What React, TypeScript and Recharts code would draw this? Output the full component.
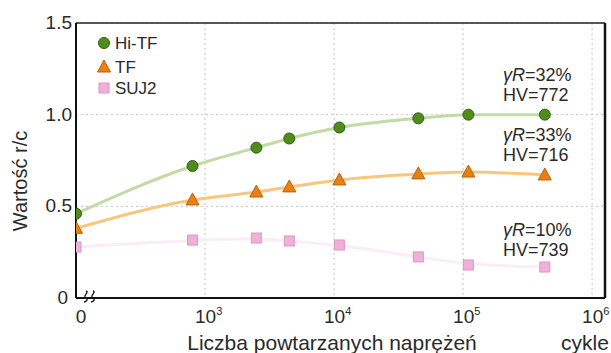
import React from "react";
import {
  ComposedChart,
  Line,
  XAxis,
  YAxis,
  CartesianGrid,
  ReferenceLine,
  Customized,
} from "recharts";

// cycle counts (0 sits at the axis break)
const cycles = [0, 800, 2500, 4500, 11000, 45000, 110000, 430000];
const hiTF = [0.46, 0.72, 0.82, 0.87, 0.93, 0.98, 1.0, 1.0];
const tf = [0.38, 0.535, 0.578, 0.606, 0.644, 0.677, 0.687, 0.671];
const suj2 = [0.278, 0.316, 0.327, 0.311, 0.289, 0.224, 0.18, 0.169];

const xTicks = [2, 3, 4, 5, 6];
const xTickExp = ["", "3", "4", "5", "6"];
const yTicks = [0, 0.5, 1.0, 1.5];

const seriesNames = ["Hi-TF", "TF", "SUJ2"];
const notes = [
  ["32%", "772"],
  ["33%", "716"],
  ["10%", "739"],
];

const FONT = "'Liberation Sans', Arial, sans-serif";
const TEXT = "#2a2a2a";

const data = cycles.map((c, i) => ({
  x: c === 0 ? 2 : Math.log10(c),
  hitf: hiTF[i],
  tf: tf[i],
  suj2: suj2[i],
}));

const Circle = ({ cx, cy }: any) => (
  <circle cx={cx} cy={cy} r={5.5} fill="#4f8c1c" stroke="#2f5f0c" strokeWidth={1} />
);
const Tri = ({ cx, cy }: any) => (
  <path
    d={`M${cx},${cy - 7} L${cx - 6.5},${cy + 5} L${cx + 6.5},${cy + 5} Z`}
    fill="#e8801a"
    stroke="#c45f00"
    strokeWidth={1}
  />
);
const Sq = ({ cx, cy }: any) => (
  <rect x={cx - 5} y={cy - 5} width={10} height={10} fill="#efb1d7" stroke="#dd95c4" strokeWidth={1} />
);

const XTick = ({ x, payload }: any) => {
  const i = xTicks.indexOf(payload.value);
  if (i === 0)
    return (
      <text x={x + 5} y={323} textAnchor="middle" fontSize={19} fill={TEXT} fontFamily={FONT}>
        0
      </text>
    );
  return (
    <text x={x - 10} y={323} fontSize={19} fill={TEXT} fontFamily={FONT}>
      10
      <tspan dy={-8} fontSize={11}>
        {xTickExp[i]}
      </tspan>
    </text>
  );
};

const YTick = ({ y, payload }: any) => (
  <text
    x={payload.value === 0 ? 68 : 72}
    y={y + 6}
    textAnchor="end"
    fontSize={19}
    fill={TEXT}
    fontFamily={FONT}
  >
    {payload.value === 0 ? "0" : payload.value.toFixed(1)}
  </text>
);

const Extras = () => {
  const legendY = [43, 67, 88];
  const noteY = [81, 141, 236];
  return (
    <g fontFamily={FONT} fill={TEXT}>
      {/* axis break */}
      <rect x={80} y={292} width={17} height={10} fill="#fff" />
      <path d="M78,298 L82,298" stroke="#111" strokeWidth={2} />
      <path d="M86,291 C90,292 82,296 86,298 C89,300 85,302 84,302" stroke="#111" strokeWidth={1.3} fill="none" />
      <path d="M93,291 C97,292 89,296 93,298 C96,300 92,302 91,302" stroke="#111" strokeWidth={1.3} fill="none" />
      {/* legend */}
      <Circle cx={104} cy={legendY[0]} />
      <Tri cx={104} cy={legendY[1]} />
      <Sq cx={104} cy={legendY[2]} />
      {seriesNames.map((n, i) => (
        <text key={n} x={115} y={legendY[i] + 6} fontSize={17}>
          {n}
        </text>
      ))}
      {/* annotations */}
      {notes.map(([g, hv], i) => (
        <g key={i}>
          <text x={503} y={noteY[i]} fontSize={18}>
            <tspan fontStyle="italic">γR</tspan>=
            {g}
          </text>
          <text x={503} y={noteY[i] + 20} fontSize={18}>
            HV={hv}
          </text>
        </g>
      ))}
      {/* axis titles */}
      <text
        x={20}
        y={181}
        transform="rotate(-90 20 181)"
        textAnchor="middle"
        dominantBaseline="central"
        fontSize={20}
      >
        Wartość r/c
      </text>
      <text x={332} y={350} textAnchor="middle" fontSize={21}>
        Liczba powtarzanych naprężeń
      </text>
      <text x={561} y={350} fontSize={21}>
        cykle
      </text>
    </g>
  );
};

export default function App() {
  return (
    <div style={{ position: "absolute", left: 0, top: 0, background: "#fff" }}>
      <ComposedChart
        width={611}
        height={353}
        data={data}
        margin={{ top: 23, right: 6, bottom: 0, left: 0 }}
      >
        <CartesianGrid stroke="#c4c4c4" strokeDasharray="2 3" />
        <XAxis
          dataKey="x"
          type="number"
          domain={[2, 6.1]}
          ticks={xTicks}
          tick={<XTick />}
          tickLine={false}
          axisLine={{ stroke: "#111", strokeWidth: 2 }}
          height={55}
          allowDataOverflow
        />
        <YAxis
          type="number"
          domain={[0, 1.5]}
          ticks={yTicks}
          tick={<YTick />}
          tickLine={false}
          axisLine={{ stroke: "#111", strokeWidth: 2 }}
          width={76}
        />
        <ReferenceLine y={1.5} stroke="#222" strokeWidth={1.5} />
        <ReferenceLine x={6.1} stroke="#111" strokeWidth={2.5} />
        <Line
          dataKey="suj2"
          type="basis"
          stroke="#faedf5"
          strokeWidth={3}
          dot={<Sq />}
          activeDot={false}
          isAnimationActive={false}
        />
        <Line
          dataKey="tf"
          type="monotone"
          stroke="#f6c77e"
          strokeWidth={3}
          dot={<Tri />}
          activeDot={false}
          isAnimationActive={false}
        />
        <Line
          dataKey="hitf"
          type="monotone"
          stroke="#c2dba6"
          strokeWidth={3}
          dot={<Circle />}
          activeDot={false}
          isAnimationActive={false}
        />
        <Customized component={Extras} />
      </ComposedChart>
    </div>
  );
}
